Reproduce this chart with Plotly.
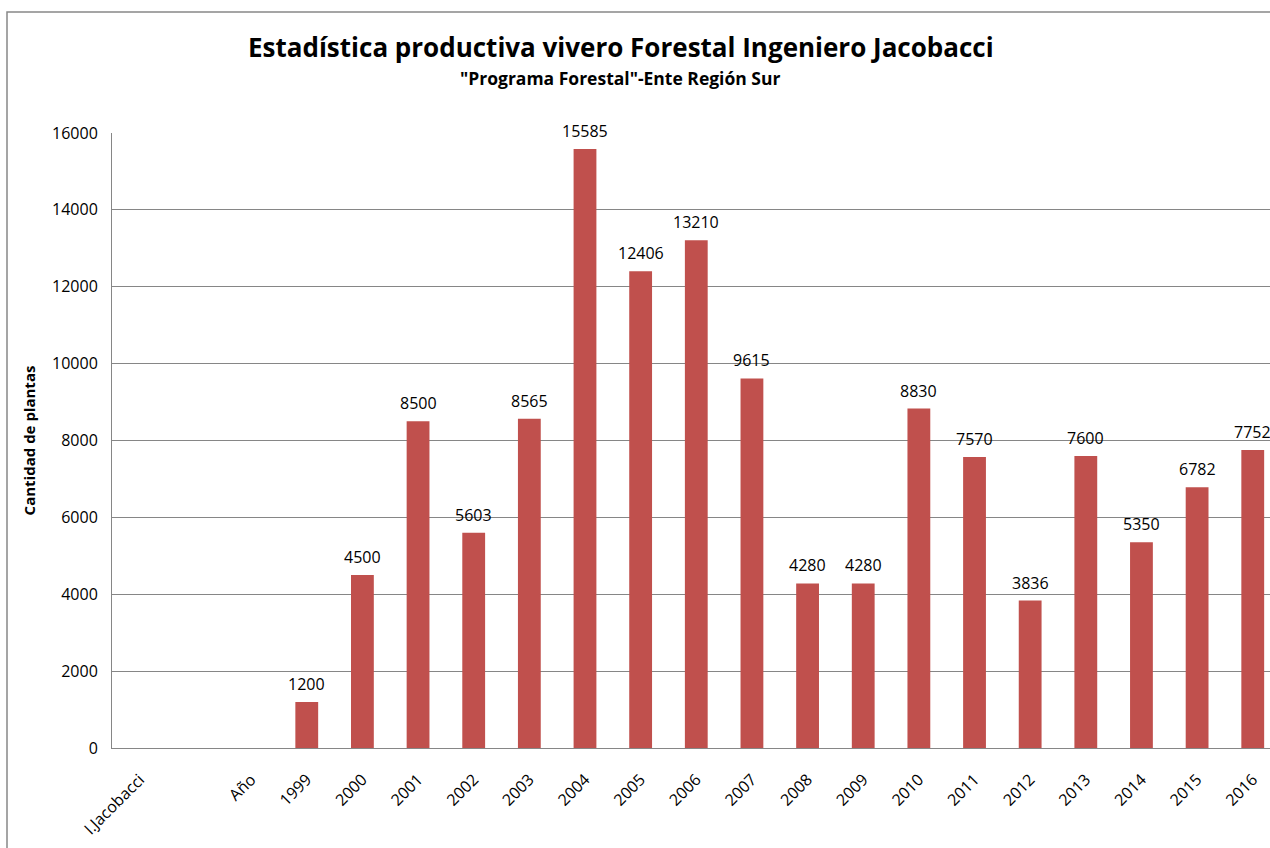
import plotly.graph_objects as go

categories = ["I.Jacobacci", " ", "Año", "1999", "2000", "2001", "2002", "2003", "2004", "2005",
              "2006", "2007", "2008", "2009", "2010", "2011", "2012", "2013", "2014", "2015", "2016"]
values = [None, None, None, 1200, 4500, 8500, 5603, 8565, 15585, 12406,
          13210, 9615, 4280, 4280, 8830, 7570, 3836, 7600, 5350, 6782, 7752]

title = "Estadística productiva vivero Forestal Ingeniero Jacobacci"
subtitle = '"Programa Forestal"-Ente Región Sur'
y_title = "Cantidad de plantas"
y_ticks = [0, 2000, 4000, 6000, 8000, 10000, 12000, 14000, 16000]

FONT = "Open Sans, Noto Sans, sans-serif"
W, H = 1270, 848
L, R, T, B = 112, 0, 133, 100
PH = H - T - B
PW = W - L - R


def py(ypx):
    return (H - B - ypx) / PH


def px(xpx):
    return (xpx - L) / PW


fig = go.Figure()
fig.add_trace(go.Bar(x=categories, y=values, marker=dict(color="#C0504D", line=dict(width=0)),
                     cliponaxis=False, hoverinfo="x+y"))

annotations = []
for i, v in enumerate(values):
    if v is None:
        continue
    annotations.append(dict(x=i, y=v, xref="x", yref="y", text=str(v), showarrow=False,
                            yanchor="bottom", yshift=5,
                            font=dict(family=FONT, size=16, color="#000000")))

annotations.append(dict(x=px(621), y=py(47), xref="paper", yref="paper", xanchor="center",
                        yanchor="middle", text="<b>" + title + "</b>", showarrow=False,
                        font=dict(family=FONT, size=26, color="#000000")))
annotations.append(dict(x=px(620), y=py(78), xref="paper", yref="paper", xanchor="center",
                        yanchor="middle", text="<b>" + subtitle + "</b>", showarrow=False,
                        font=dict(family=FONT, size=17.5, color="#000000")))

fig.update_layout(
    width=W, height=H,
    margin=dict(l=L, r=R, t=T, b=B, pad=0),
    paper_bgcolor="white", plot_bgcolor="white",
    showlegend=False,
    bargap=0.59,
    font=dict(family=FONT, size=16, color="#000000"),
    xaxis=dict(type="category", range=[-0.5, 20.31], tickangle=-45, showgrid=False,
               showline=True, linecolor="#868686", linewidth=1, ticks="",
               ticklabelstandoff=15,
               tickfont=dict(family=FONT, size=16, color="#000000")),
    yaxis=dict(range=[0, 16000], tickvals=y_ticks, ticktext=[str(t) for t in y_ticks],
               showgrid=True, gridcolor="#868686", gridwidth=1,
               showline=True, linecolor="#868686", linewidth=1, ticks="", zeroline=False,
               ticklabelstandoff=10,
               tickfont=dict(family=FONT, size=16, color="#000000"),
               title=dict(text="<b>" + y_title + "</b>",
                          font=dict(family=FONT, size=15, color="#000000"), standoff=12)),
    annotations=annotations,
)
fig.add_shape(type="rect", xref="paper", yref="paper",
              x0=px(7), x1=1.02, y0=-0.2, y1=py(12),
              line=dict(color="#888888", width=1.5), fillcolor="rgba(0,0,0,0)", layer="below")

fig.write_html("out.html", config={"displayModeBar": False},
               post_script="document.body.style.margin='0';document.body.style.overflow='hidden';")
